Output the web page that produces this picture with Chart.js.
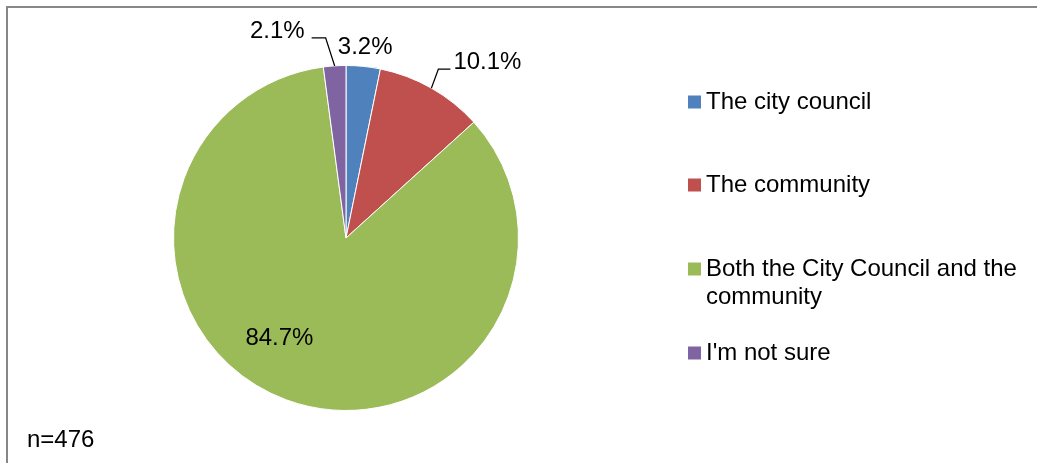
<!DOCTYPE html>
<html>
<head>
<meta charset="utf-8">
<script src="https://cdn.jsdelivr.net/npm/chart.js@4"></script>
<style>
  html, body { margin: 0; padding: 0; background: #fff; }
  canvas { display: block; }
</style>
</head>
<body>
<canvas id="pieChart" width="1037" height="463"></canvas>
<script>
const categories = [
    "The city council",
    "The community",
    "Both the City Council and the community",
    "I'm not sure"
];
const shares = [3.2, 10.1, 84.7, 2.1];
const sliceColours = ["#4F81BD", "#C0504D", "#9BBB59", "#8064A2"];
const sampleNote = "n=476";

const FONT = "24px 'Liberation Sans', Arial, sans-serif";

// where each percentage sits relative to its slice
const labelPlacement = [
    { r: 1.11, dx: 0, dy: 0 },
    { leader: { elbowX: 7, elbowY: -19, run: 12 }, align: "left", gap: 3, lift: -7 },
    { r: 0.7, dx: -25, dy: -13 },
    { leader: { elbowX: -9, elbowY: -28, run: -14 }, align: "right", gap: 7, lift: -6 }
];

// legend rows: y of the first text line, lines wrapped by hand
const legendRows = [
    { y: 102, lines: ["The city council"] },
    { y: 185, lines: ["The community"] },
    { y: 269, lines: ["Both the City Council and the", "community"] },
    { y: 353, lines: ["I'm not sure"] }
];

const framePlugin = {
    id: "frame",
    beforeDraw(chart) {
        const ctx = chart.ctx;
        ctx.save();
        ctx.fillStyle = "#fff";
        ctx.fillRect(0, 0, chart.width, chart.height);
        ctx.strokeStyle = "#878787";
        ctx.lineWidth = 2;
        ctx.beginPath();
        ctx.moveTo(7, chart.height);
        ctx.lineTo(7, 7);
        ctx.lineTo(chart.width, 7);
        ctx.stroke();
        ctx.restore();
    }
};

const labelPlugin = {
    id: "sliceLabels",
    afterDatasetsDraw(chart) {
        const ctx = chart.ctx;
        const arcs = chart.getDatasetMeta(0).data;
        ctx.save();
        ctx.font = FONT;
        ctx.fillStyle = "#000";
        ctx.textBaseline = "middle";
        arcs.forEach((arc, i) => {
            const p = labelPlacement[i];
            const mid = (arc.startAngle + arc.endAngle) / 2;
            const text = shares[i].toFixed(1) + "%";
            if (p.leader) {
                const ex = arc.x + Math.cos(mid) * arc.outerRadius;
                const ey = arc.y + Math.sin(mid) * arc.outerRadius;
                const bx = ex + p.leader.elbowX;
                const by = ey + p.leader.elbowY;
                const tx = bx + p.leader.run;
                ctx.strokeStyle = "#000";
                ctx.lineWidth = 1.3;
                ctx.beginPath();
                ctx.moveTo(ex, ey);
                ctx.lineTo(bx, by);
                ctx.lineTo(tx, by);
                ctx.stroke();
                ctx.textAlign = p.align;
                const x = p.align === "left" ? tx + p.gap : tx - p.gap;
                ctx.fillText(text, x, by + p.lift);
            } else {
                const r = arc.outerRadius * p.r;
                ctx.textAlign = "center";
                ctx.fillText(text, arc.x + Math.cos(mid) * r + p.dx, arc.y + Math.sin(mid) * r + p.dy);
            }
        });

        // legend
        ctx.textAlign = "left";
        legendRows.forEach((row, i) => {
            ctx.fillStyle = sliceColours[i];
            ctx.fillRect(688, row.y - 6.5, 13, 13);
            ctx.fillStyle = "#000";
            row.lines.forEach((line, j) => {
                ctx.fillText(line, 706, row.y + j * 28);
            });
        });

        ctx.fillText(sampleNote, 27, 440);
        ctx.restore();
    }
};

new Chart(document.getElementById("pieChart").getContext("2d"), {
    type: "pie",
    data: {
        labels: categories,
        datasets: [{
            data: shares,
            backgroundColor: sliceColours,
            borderColor: "#fff",
            borderWidth: 1
        }]
    },
    options: {
        responsive: false,
        animation: false,
        layout: {
            padding: { left: 173, right: 518, top: 64, bottom: 51 }
        },
        plugins: {
            legend: { display: false },
            tooltip: { enabled: false }
        }
    },
    plugins: [framePlugin, labelPlugin]
});
</script>
</body>
</html>
